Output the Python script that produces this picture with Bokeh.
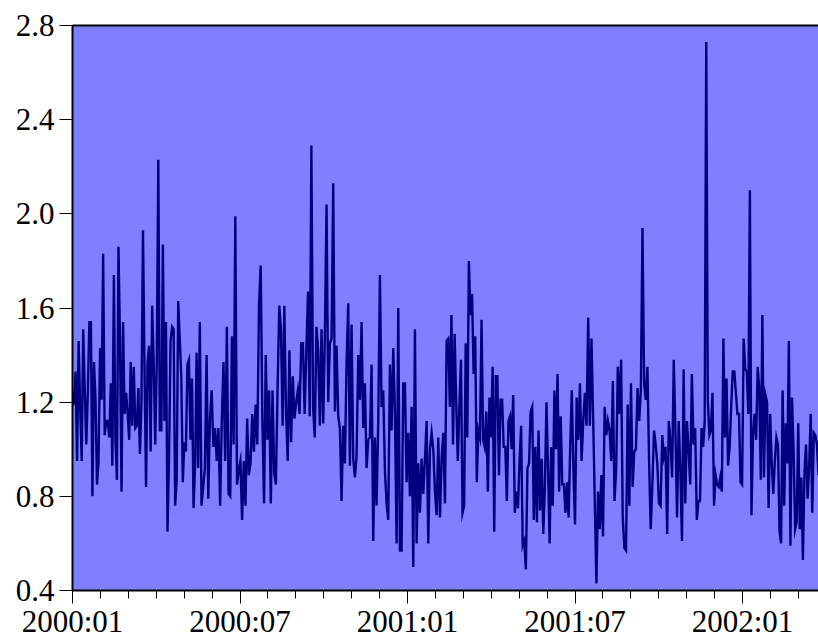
import numpy as np
from bokeh.plotting import figure
from bokeh.models import Range1d, FixedTicker, LinearAxis, NumeralTickFormatter, ColumnDataSource
from bokeh.embed import file_html
from bokeh.resources import INLINE

# ---- data ----
# x unit: months since 2000:01; each chunk of observations spans one period
period_bounds = [0.0, 4.50, 8.98, 13.46, 17.94, 22.42, 26.72]

obs_2000a = [1.25, 1.19, 1.33, 0.95, 1.46, 1.18, 0.95, 1.51, 1.25, 1.02, 1.24, 1.54, 1.54, 0.80, 1.37,
             1.22, 0.85, 0.95, 1.43, 1.21, 1.83, 1.06, 1.12, 1.12, 1.05, 1.28, 0.93, 1.74, 1.05, 0.87,
             1.86, 1.47, 0.82, 1.54, 1.15, 1.24, 1.15, 1.04, 1.37, 1.10, 1.35, 1.09, 1.10, 1.26, 0.98,
             1.19, 1.93, 1.35, 0.84, 1.37, 1.44, 0.99, 1.61, 1.36, 1.02, 1.37, 2.23, 1.08, 1.08, 1.87,
             1.12, 1.54, 0.65, 0.96, 1.46, 1.52, 1.51, 0.76, 0.87, 1.63, 1.47, 1.31, 0.86, 1.03, 0.99,
             1.36, 1.38, 1.04, 1.30, 0.75, 0.93, 1.41]
obs_2000b = [0.92, 1.54, 0.76, 0.84, 0.92, 1.40, 0.79, 1.13, 1.25, 1.01, 1.09, 0.95, 1.09, 0.76, 1.12,
             1.37, 0.95, 1.52, 0.81, 0.80, 1.48, 1.02, 1.99, 0.85, 0.91, 0.95, 0.70, 0.95, 0.76, 1.13,
             0.89, 0.94, 1.15, 0.99, 1.19, 1.02, 1.61, 1.78, 1.13, 0.77, 1.40, 1.04, 1.25, 0.77, 1.25,
             0.90, 0.85, 1.26, 1.61, 1.51, 1.10, 1.61, 1.16, 0.95, 1.42, 1.03, 1.31, 1.13, 1.20, 1.25,
             1.15, 1.45, 1.45, 1.15, 1.41, 1.67, 1.14, 2.29, 1.18, 1.05, 1.52, 1.42, 1.10, 1.51]
obs_2000c = [1.11, 1.49, 2.04, 1.20, 1.45, 1.47, 2.13, 1.16, 1.44, 1.14, 1.09, 0.78, 1.10, 0.94, 1.37,
             1.62, 0.93, 1.53, 0.96, 0.88, 0.97, 1.40, 1.21, 1.54, 1.09, 1.28, 0.92, 1.04, 1.05, 1.36,
             0.61, 1.05, 0.76, 1.12, 1.74, 1.18, 1.25, 0.91, 0.77, 0.70, 1.36, 1.08, 1.43, 1.16, 0.60,
             1.60, 0.57, 0.57, 1.28, 1.28, 0.86, 1.07, 0.80, 1.18, 0.50, 1.51, 0.60, 0.94, 0.73, 0.96,
             0.81, 0.96, 1.12, 0.60, 1.00, 1.07, 1.00, 0.82, 0.72, 1.05, 0.71, 0.96, 1.07, 0.77, 1.46]
obs_2001a = [1.47, 1.18, 1.57, 1.02, 1.49, 1.20, 0.95, 1.18, 1.38, 0.73, 0.76, 1.45, 1.05, 1.80, 1.57,
             1.66, 1.32, 1.48, 0.86, 1.08, 1.05, 1.55, 1.04, 1.01, 1.16, 0.82, 1.22, 1.05, 1.35, 0.65,
             1.31, 1.31, 0.89, 1.21, 1.21, 1.01, 1.01, 0.78, 1.12, 1.14, 1.00, 1.23, 0.73, 0.82, 0.75,
             0.95, 1.10, 0.59, 0.61, 0.49, 0.92, 0.94, 1.16, 1.18, 0.70, 1.01, 0.69, 1.08, 0.74, 0.96,
             0.64, 0.84, 1.20, 0.92, 0.60, 1.01, 0.76, 1.25, 1.00, 1.32, 0.82, 1.14, 0.85, 0.85, 0.73,
             0.86, 0.71, 1.01, 1.25]
obs_2001b = [0.92, 0.68, 1.22, 1.04, 1.28, 0.95, 1.12, 1.24, 1.10, 1.56, 1.10, 1.47, 1.14, 0.78, 0.43,
             0.82, 0.66, 0.89, 0.63, 1.18, 1.06, 1.12, 1.08, 0.95, 1.29, 0.78, 0.91, 1.35, 1.15, 1.38,
             0.71, 0.58, 0.57, 1.19, 0.76, 1.28, 0.84, 0.99, 1.00, 1.26, 1.12, 1.25, 1.94, 1.28, 1.21,
             1.35, 0.95, 0.66, 0.85, 1.08, 1.02, 0.94, 0.77, 0.76, 1.06, 0.97, 1.01, 0.64, 1.12, 1.03,
             0.88, 1.38, 1.08, 0.71, 1.12, 0.91, 0.61, 1.34, 0.77, 1.12, 1.00, 0.85, 1.32, 1.02, 1.09,
             0.70]
obs_2002 = [0.78, 0.78, 1.09, 1.01, 1.12, 2.73, 1.21, 1.06, 1.08, 1.24, 0.76, 0.89, 0.85, 0.84, 0.88,
            0.82, 1.47, 1.05, 1.30, 0.93, 1.01, 1.18, 1.33, 1.33, 1.24, 1.15, 1.15, 0.86, 0.85, 1.47,
            1.34, 1.33, 1.15, 2.10, 0.72, 1.06, 1.15, 1.04, 1.35, 1.26, 0.87, 1.57, 0.88, 1.23, 1.20,
            0.75, 1.15, 0.94, 0.81, 0.95, 1.05, 1.02, 0.65, 0.60, 1.25, 0.76, 1.11, 0.94, 1.46, 0.59,
            1.22, 1.00, 0.66, 0.69, 1.11, 0.66, 0.88, 0.53, 0.90, 1.02, 0.79, 0.93, 1.15, 0.73, 1.07,
            1.06, 1.02, 0.89]

chunks = [obs_2000a, obs_2000b, obs_2000c, obs_2001a, obs_2001b, obs_2002]

tick_months = [0, 6, 12, 18, 24]
tick_labels = ["2000:01", "2000:07", "2001:01", "2001:07", "2002:01"]
minor_months = list(range(0, 27))
y_ticks = [0.4, 0.8, 1.2, 1.6, 2.0, 2.4, 2.8]

# ---- build x positions: observations evenly spread inside their period ----
xs, ys = [], []
for k, ch in enumerate(chunks):
    a, b = period_bounds[k], period_bounds[k + 1]
    last = (k == len(chunks) - 1)
    xs.extend(np.linspace(a, b, len(ch), endpoint=last).tolist())
    ys.extend(ch)

src = ColumnDataSource(dict(x=xs, y=ys))

FONT = "Liberation Serif"
FS = "31px"

p = figure(width=818, height=642, output_backend="svg", toolbar_location=None,
           x_range=Range1d(0, period_bounds[-1]), y_range=Range1d(0.4, 2.8),
           min_border_left=72, min_border_right=0, min_border_top=25, min_border_bottom=52,
           x_axis_type=None, y_axis_type=None)
p.background_fill_color = "#8080FF"
p.border_fill_color = "white"
p.outline_line_color = None
p.grid.visible = False

p.line("x", "y", source=src, line_color="#000080", line_width=2.4, line_join="miter")

xaxis = LinearAxis(ticker=FixedTicker(ticks=tick_months, minor_ticks=minor_months))
xaxis.major_label_overrides = {m: lab for m, lab in zip(tick_months, tick_labels)}
xaxis.axis_line_width = 2
xaxis.axis_line_color = "black"
xaxis.major_tick_in = 0
xaxis.major_tick_out = 13
xaxis.minor_tick_in = 0
xaxis.minor_tick_out = 8
xaxis.major_tick_line_color = "black"
xaxis.minor_tick_line_color = "black"
xaxis.major_label_text_font = FONT
xaxis.major_label_text_font_size = FS
xaxis.major_label_text_color = "black"
xaxis.major_label_standoff = 0
p.add_layout(xaxis, "below")

yaxis = LinearAxis(ticker=FixedTicker(ticks=y_ticks, minor_ticks=[]),
                   formatter=NumeralTickFormatter(format="0.0"))
yaxis.axis_line_width = 2
yaxis.axis_line_color = "black"
yaxis.major_tick_in = 0
yaxis.major_tick_out = 13
yaxis.minor_tick_line_color = None
yaxis.major_tick_line_color = "black"
yaxis.major_label_text_font = FONT
yaxis.major_label_text_font_size = FS
yaxis.major_label_text_color = "black"
yaxis.major_label_standoff = 5
p.add_layout(yaxis, "left")

top = LinearAxis(ticker=FixedTicker(ticks=[], minor_ticks=[]))
top.axis_line_width = 2
top.axis_line_color = "black"
top.major_tick_line_color = None
top.minor_tick_line_color = None
top.major_label_text_font_size = "0px"
p.add_layout(top, "above")

open("out.html", "w").write(file_html(p, INLINE))
